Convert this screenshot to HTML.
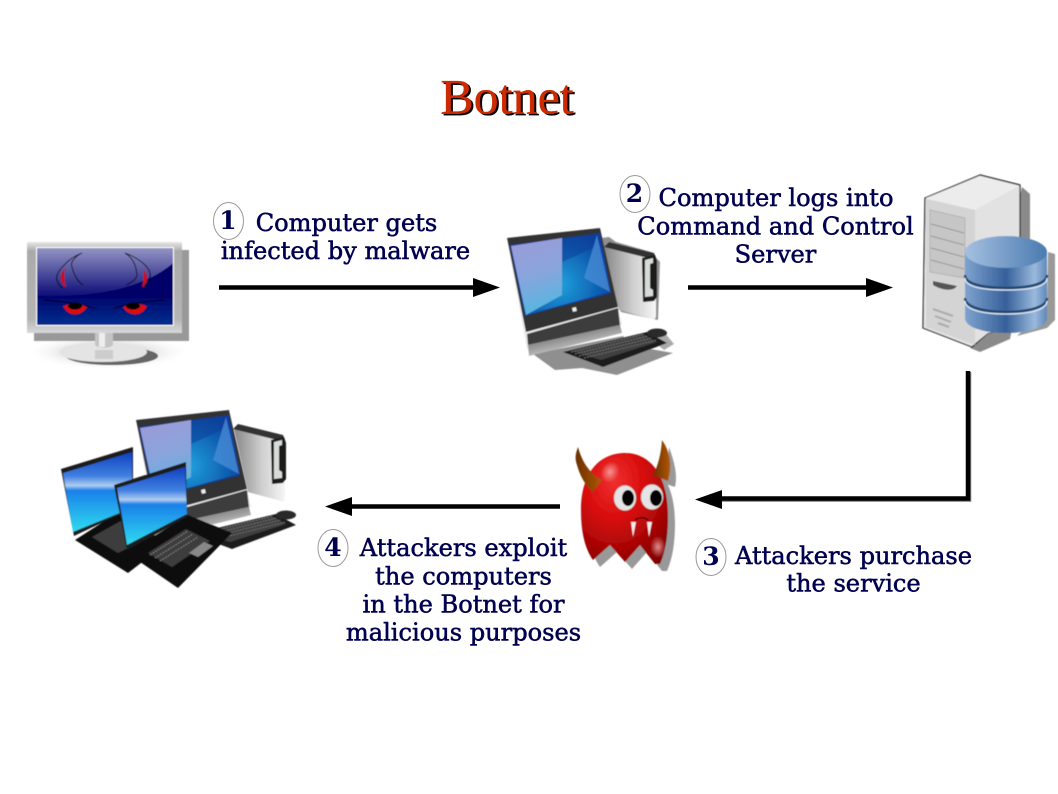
<!DOCTYPE html>
<html><head><meta charset="utf-8"><style>
html,body{margin:0;padding:0;background:#fff;width:1058px;height:794px;overflow:hidden}
svg{display:block}
.t{font-family:"DejaVu Serif",serif;font-size:24.1px;fill:#000050;text-anchor:middle;stroke:#000050;stroke-width:.55px}
.n{font-family:"DejaVu Serif",serif;font-size:25px;fill:#000050;text-anchor:middle;font-weight:bold}
.c{fill:#fff;stroke:#999;stroke-width:1}
</style></head><body>
<svg width="1058" height="794" viewBox="0 0 1058 794" xmlns="http://www.w3.org/2000/svg">
<defs>
<linearGradient id="scr" x1="0" y1="0" x2="0" y2="1"><stop offset="0" stop-color="#00006a"/><stop offset=".6" stop-color="#000068"/><stop offset="1" stop-color="#003090"/></linearGradient>
<linearGradient id="gloss" gradientUnits="userSpaceOnUse" x1="0" y1="248" x2="0" y2="295"><stop offset="0" stop-color="#9494c4"/><stop offset="1" stop-color="#10107a"/></linearGradient>
<linearGradient id="bez" x1="0" y1="0" x2="0" y2="1"><stop offset="0" stop-color="#e8e8e8"/><stop offset=".1" stop-color="#aaa"/><stop offset=".85" stop-color="#b5b5b5"/><stop offset="1" stop-color="#d8d8d8"/></linearGradient>
<radialGradient id="blu" gradientUnits="userSpaceOnUse" cx="560" cy="284" r="60"><stop offset="0" stop-color="#1fa0dc"/><stop offset=".6" stop-color="#1064b4"/><stop offset="1" stop-color="#0c3c98"/></radialGradient>
<linearGradient id="pane" gradientUnits="userSpaceOnUse" x1="525" y1="240" x2="545" y2="305"><stop offset="0" stop-color="#9a9cd8"/><stop offset=".5" stop-color="#8aa4dc"/><stop offset="1" stop-color="#5cb4e0"/></linearGradient>
<linearGradient id="chin" gradientUnits="userSpaceOnUse" x1="570" y1="318" x2="576" y2="345"><stop offset="0" stop-color="#444"/><stop offset="1" stop-color="#b5b5b5"/></linearGradient>
<linearGradient id="cyl" x1="0" y1="0" x2="1" y2="0"><stop offset="0" stop-color="#7fa3cf"/><stop offset=".5" stop-color="#36609a"/><stop offset=".85" stop-color="#9ab9dc"/><stop offset="1" stop-color="#5f88ba"/></linearGradient>
<linearGradient id="top" x1="0" y1="0" x2="1" y2="0"><stop offset="0" stop-color="#a5c0e0"/><stop offset="1" stop-color="#4a7ab0"/></linearGradient>
<linearGradient id="tow" x1="0" y1="0" x2="1" y2="0"><stop offset="0" stop-color="#888"/><stop offset=".55" stop-color="#cfcfcf"/><stop offset="1" stop-color="#f6f6f6"/></linearGradient>
<linearGradient id="lap" x1="0" y1="0" x2="0" y2="1"><stop offset="0" stop-color="#1040c0"/><stop offset=".3" stop-color="#4080e0"/><stop offset=".42" stop-color="#b0cdf0"/><stop offset=".48" stop-color="#1a80e8"/><stop offset="1" stop-color="#30dcf0"/></linearGradient>
<radialGradient id="dev" cx=".38" cy=".25" r=".85"><stop offset="0" stop-color="#f03030"/><stop offset=".4" stop-color="#d80c0c"/><stop offset="1" stop-color="#800000"/></radialGradient>
<linearGradient id="horn" x1="0" y1="0" x2="1" y2="0"><stop offset="0" stop-color="#6a3000"/><stop offset="1" stop-color="#b05808"/></linearGradient>
<radialGradient id="gl" cx=".5" cy=".5" r=".5"><stop offset="0" stop-color="#999"/><stop offset="1" stop-color="#fff" stop-opacity="0"/></radialGradient>
<radialGradient id="spot" cx=".5" cy=".5" r=".5"><stop offset="0" stop-color="#f8b0b0" stop-opacity=".8"/><stop offset="1" stop-color="#f8b0b0" stop-opacity="0"/></radialGradient>
<filter id="s" x="-5%" y="-5%" width="110%" height="110%"><feGaussianBlur stdDeviation=".45"/></filter>

<g id="pc">
<!-- tower -->
<path d="M605 247l48 9 3 5v54c0 4-2 5-4 4l-33-9z" fill="url(#tow)"/>
<path d="M604 247l5-5 45 11 2 5-4 1z" fill="#333"/>
<path d="M642 258l13-3 2 6v36l-3 4-11 1z" fill="#1c1c1c"/>
<path d="M645 260l8-2v5l-3 1v24l3 2v6l-8 1z" fill="#d8dcd8"/>
<!-- monitor -->
<path d="M507 238l93-10 22 97-95 24z" fill="#e8e8e8"/>
<path d="M507 238l93-10 18 79-92 25z" fill="#333"/>
<path d="M510 245l90-12 11 60-86 23z" fill="#103c9c"/>
<path d="M511 246l88-12 11 58-84 23z" fill="url(#blu)"/>
<path d="M511 246l51-8v57l-36 20z" fill="url(#pane)"/>
<path d="M562 238l37-4-6 14-31 14z" fill="#0c3c98" opacity=".5"/>
<path d="M597 235l13 57-26-14z" fill="#4a8ed8" opacity=".75"/>
<path d="M527 334l91-26 2 17-92 20z" fill="#3c3c3c"/>
<path d="M528 345l92-20 2 8-93 23z" fill="url(#chin)"/>
<rect x="572" y="308" width="4" height="4" fill="#eee" transform="rotate(-14 572 308)"/>
<!-- keyboard -->
<path d="M563 352l84-20 20 11-64 24z" fill="#1c1c1c"/>
<path d="M571 351l72-17 14 8-56 18z" fill="#404040"/>
<path d="M571 352l73-18M575 354l73-18M579 356l73-18M584 358l73-18" stroke="#777" stroke-width=".8" stroke-dasharray="2 1" fill="none"/>
<ellipse cx="657" cy="333" rx="10" ry="4.500" fill="#2a2a2a"/>
</g>
</defs>

<!-- Title -->
<text x="509" y="115" font-family="'Liberation Serif',serif" font-size="50" text-anchor="middle" fill="#000" stroke="#000" stroke-width=".3">Botnet</text>
<text x="507" y="113.500" font-family="'Liberation Serif',serif" font-size="50" text-anchor="middle" fill="#cc2a00" stroke="#cc2a00" stroke-width=".3">Botnet</text>

<g filter="url(#s)">
<!-- Monitor -->
<ellipse cx="108" cy="352" rx="85" ry="18" fill="url(#gl)"/>
<rect x="34" y="250" width="155" height="91" fill="#999"/>
<ellipse cx="112" cy="356" rx="46" ry="9" fill="#666"/>
<ellipse cx="103" cy="352" rx="44" ry="10" fill="#e4e4e4"/>
<path d="M95 350h18v9h-18z" fill="#ccc"/>
<path d="M95 333h18v11c0 5-18 5-18 0z" fill="#c4c4c4"/>
<path d="M99 333h6v14h-6z" fill="#eee"/>
<rect x="27" y="242" width="155" height="91" fill="url(#bez)"/>
<rect x="36" y="247" width="138" height="79" fill="#fff"/>
<rect x="37" y="248" width="136" height="77" fill="url(#scr)"/>
<path d="M37 248h136v15c-25 22-70 35-136 33z" fill="url(#gloss)"/>
<path d="M82 253c-16 6-28 22-25 27 1 4 3 7 6 8M82 253c-8 4-12 10-10 14 2 8 5 14 11 18M125 253c16 6 27 16 25 24-1 4-3 8-5 10M125 253c8 5 11 12 12 22-1 5-6 8-11 10" fill="none" stroke="#000" stroke-width=".9"/>
<path d="M65 268c-5 5-6 12-1 18 1 1 2 1 2 0-2-6-2-12-1-18zM143 269c5 5 6 12 1 17-1 1-2 1-2 0 2-6 2-11 1-17z" fill="#c81020"/>
<path d="M43 300c18 1 40 4 54 9M165 300c-18 1-40 4-53 9" stroke="#000" stroke-width=".9" fill="none"/>
<path d="M63 306c8-3 16-3 24 1-6 10-19 10-24-1zM147 306c-8-3-16-3-24 1 6 10 19 10 24-1z" fill="#d81010"/>
<ellipse cx="75" cy="306" rx="7" ry="3.500" fill="#000"/><ellipse cx="133" cy="306" rx="7" ry="3.500" fill="#000"/>

<!-- PC with shadows -->
<path d="M601 238l8-1 7 5 35 10 9 10-2 58-37-8-10-20z" fill="#8f8f8f"/>
<path d="M533 354l90-18 10 10 40 7-56 22-35-7-27 2z" fill="#8f8f8f"/>
<path d="M650 339l14-7 10 12-10 6z" fill="#aaa"/>
<use href="#pc"/>

<!-- Server -->
<path d="M1022 187l8 7v45l-20 100-30 13-10-4 20-30z" fill="#8a8a8a"/>
<path d="M925 198l55-23 40 10v140l-32 8-16 14-49-19z" fill="#e6e6e6" stroke="#111" stroke-width="1.200" stroke-linejoin="round"/>
<path d="M926 198l54-22 39 10-44 24z" fill="#ececec"/>
<path d="M975 210l44-24v140l-31 7-16 13z" fill="#e2e2e2"/>
<path d="M926 199l49 11v135l-49-18z" fill="#d4d4d4"/>
<path d="M930 210l35 8v60l-35-6z" fill="#c6c6c6" stroke="#b4b4b4"/>
<path d="M931 224l33 9M931 236l33 9M931 248l33 9M931 260l33 9" stroke="#888" stroke-width=".7"/>
<path d="M933 281l24 5c-4 6-16 4-24-1z" fill="#555"/>
<path d="M933 309l20 7M935 316l16 6M938 323l11 4" stroke="#aaa" stroke-width="2"/>
<!-- Database -->
<path d="M1048 252l7 2v66l-8 8-30 8 30-30z" fill="#999"/>
<path d="M965 252v66c0 9 18 15 41 15s41-6 41-15v-66z" fill="url(#cyl)"/>
<path d="M965 275c0 9 18 13 41 13s41-4 41-13" fill="none" stroke="#23466f" stroke-width="2.500"/>
<path d="M965 278c0 9 18 12 41 12s41-3 41-12" fill="none" stroke="#dfe9f5" stroke-width="1.300"/>
<path d="M965 298c0 9 18 14 41 14s41-5 41-14" fill="none" stroke="#23466f" stroke-width="2.500"/>
<path d="M965 301c0 9 18 13 41 13s41-4 41-13" fill="none" stroke="#dfe9f5" stroke-width="1.300"/>
<ellipse cx="1006" cy="252" rx="41" ry="16" fill="url(#top)"/>

<!-- Lower group -->
<use href="#pc" transform="translate(-371 182)"/>
<!-- back laptop -->
<path d="M75 540l42-27 50 30-39 30z" fill="#111"/>
<path d="M92 537l36-20 28 17-38 19z" fill="#3c3c3c"/>
<path d="M61 469l72-22v61l-59 28z" fill="#1c1c1c"/>
<path d="M63 473l69-21v56l-59 24z" fill="url(#lap)"/>
<!-- front laptop -->
<path d="M127 553l61-38 44 18-54 55z" fill="#111"/>
<path d="M148 553l38-24 24 12-38 26z" fill="#3c3c3c"/>
<path d="M150 555l38-24M155 558l38-24M160 561l38-24" stroke="#888" stroke-width=".8" stroke-dasharray="2 1" fill="none"/>
<path d="M189 553l15-11 9 4-15 11z" fill="#888"/>
<path d="M114 485l72-23 1 55-60 33z" fill="#1c1c1c"/>
<path d="M117 488l68-21 2 47-60 31z" fill="url(#lap)"/>

<!-- Devil -->
<g fill="#999" transform="translate(7 7)">
<path d="M581 510C581 472 600 453 625 453 652 453 668 478 668 515 668 535 666 550 660 564L655 564 640 545 625 562 610 545 593 560C586 550 581 535 581 510z"/>
<path d="M662 440c5 14 9 28 6 40l-15-5c5-8 8-22 9-35z"/>
</g>
<path d="M581 510C581 472 600 453 625 453 652 453 668 478 668 515 668 535 666 550 660 564L655 564 640 545 625 562 610 545 593 560C586 550 581 535 581 510z" fill="url(#dev)"/>
<ellipse cx="610" cy="472" rx="9" ry="11" fill="url(#spot)" transform="rotate(25 610 472)"/>
<ellipse cx="658" cy="547" rx="8" ry="11" fill="url(#spot)"/>
<path d="M578 447c-3 8-3 12-1 18 3 11 8 20 16 27l9-12c-12-6-20-18-24-33z" fill="url(#horn)"/>
<path d="M662 440c-1 14-4 26-9 35l15 6c4-14 3-28-6-41z" fill="url(#horn)"/>
<ellipse cx="625" cy="498" rx="11" ry="12.500" fill="#e4e4e4" stroke="#bbb" stroke-width=".5"/>
<ellipse cx="652" cy="497" rx="11" ry="12.500" fill="#e4e4e4" stroke="#bbb" stroke-width=".5"/>
<ellipse cx="628" cy="498" rx="6" ry="8" fill="#000"/>
<ellipse cx="656" cy="498" rx="6" ry="8" fill="#000"/>
<path d="M631 522h5l-3 15zM647 522h5l-3 15z" fill="#eee"/>
<path d="M635 520c4-3 10-3 13 0" stroke="#300" stroke-width="1.200" fill="none"/>
</g>

<!-- Arrows -->
<path d="M219 287.500H478" stroke="#000" stroke-width="4.500"/>
<path d="M473 278l27 9.500-27 9.500z" fill="#000"/>
<path d="M688 287.500H870" stroke="#000" stroke-width="4.500"/>
<path d="M866 278l27 9.500-27 9.500z" fill="#000"/>
<path d="M968 371V498.500H720" stroke="#777" stroke-width="4.500" fill="none" transform="translate(1 1)"/>
<path d="M968 371V498.500H720" stroke="#000" stroke-width="4.500" fill="none"/>
<path d="M722 490l-27 9.500 27 9.500z" fill="#000"/>
<path d="M560 506.500H350" stroke="#000" stroke-width="4.500"/>
<path d="M352 497l-27 9.500 27 9.500z" fill="#000"/>

<!-- Labels -->
<ellipse class="c" cx="228.500" cy="221" rx="15" ry="18.500"/>
<text class="n" x="228" y="229">1</text>
<text class="t" x="346.500" y="231">Computer gets</text>
<text class="t" x="345.500" y="259">infected by malware</text>

<ellipse class="c" cx="635" cy="194" rx="15" ry="18.500"/>
<text class="n" x="634.500" y="202">2</text>
<text class="t" x="776" y="206">Computer logs into</text>
<text class="t" x="775.500" y="234.500">Command and Control</text>
<text class="t" x="775.500" y="262.500">Server</text>

<ellipse class="c" cx="711" cy="557" rx="15" ry="18.500"/>
<text class="n" x="711" y="565">3</text>
<text class="t" x="853.500" y="564">Attackers purchase</text>
<text class="t" x="853.500" y="591.500">the service</text>

<ellipse class="c" cx="333" cy="548" rx="15" ry="18.500"/>
<text class="n" x="333" y="556">4</text>
<text class="t" x="463.500" y="556">Attackers exploit</text>
<text class="t" x="463.500" y="584.500">the computers</text>
<text class="t" x="463.500" y="612.500">in the Botnet for</text>
<text class="t" x="463.500" y="640.500">malicious purposes</text>
</svg>
</body></html>
